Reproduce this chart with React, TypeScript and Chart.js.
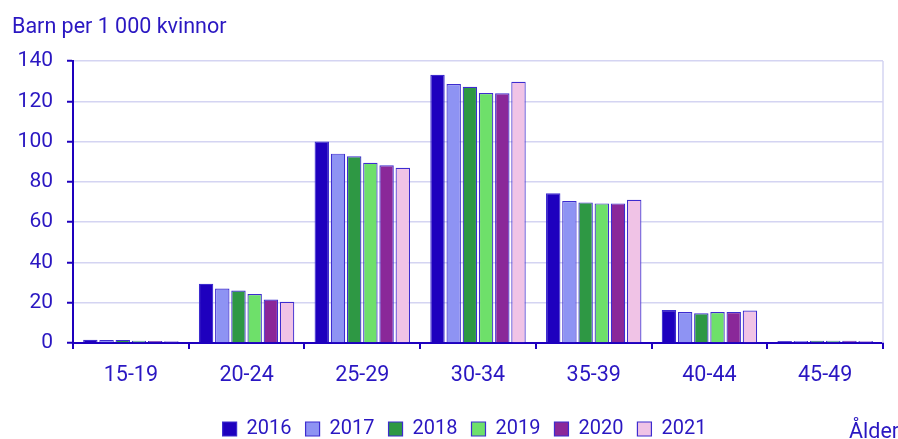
import React, { useEffect, useRef } from "react";
import { Chart, registerables } from "chart.js";

Chart.register(...registerables);

const ageGroups = ["15-19", "20-24", "25-29", "30-34", "35-39", "40-44", "45-49"];
const years = ["2016", "2017", "2018", "2019", "2020", "2021"];
const v2016 = [1.6, 29.4, 100.0, 133.2, 74.4, 16.4, 1.0];
const v2017 = [1.5, 27.0, 94.0, 128.6, 70.5, 15.4, 1.0];
const v2018 = [1.5, 26.1, 92.7, 127.2, 69.8, 14.8, 1.1];
const v2019 = [1.1, 24.3, 89.5, 124.1, 69.3, 15.4, 1.1];
const v2020 = [1.0, 21.6, 88.2, 124.0, 69.3, 15.4, 1.1];
const v2021 = [0.9, 20.5, 87.0, 129.7, 71.1, 16.1, 1.0];
const yTicks = [0, 20, 40, 60, 80, 100, 120, 140];
const yTitle = "Barn per 1 000 kvinnor";
const xTitle = "Ålder";

const seriesValues = [v2016, v2017, v2018, v2019, v2020, v2021];
const colors = ["#1e00be", "#8e93f3", "#2e9844", "#6ee06a", "#8a2899", "#f0c3e6"];
const MAIN = "#1e00be";
const TEXT = "#2a17c2";
const GRID = "#d4d4f2";
const FONT = "Roboto";

const extrasPlugin = {
  id: "extras",
  afterLayout(chart: any) {
    const lg = chart.legend;
    if (lg) {
      lg.left += 23;
      lg.right += 23;
      lg.top += 10;
      lg.bottom += 10;
    }
  },
  beforeDatasetsDraw(chart: any) {
    const { ctx, chartArea } = chart;
    ctx.save();
    ctx.strokeStyle = GRID;
    ctx.lineWidth = 1.5;
    ctx.beginPath();
    ctx.moveTo(chartArea.right, chartArea.top);
    ctx.lineTo(chartArea.right, chartArea.bottom);
    ctx.stroke();
    ctx.restore();
  },
  afterDraw(chart: any) {
    const { ctx } = chart;
    ctx.save();
    ctx.fillStyle = TEXT;
    ctx.textBaseline = "alphabetic";
    ctx.textAlign = "left";
    ctx.font = `21.5px ${FONT}`;
    ctx.fillText(yTitle, 12, 32.5);
    ctx.font = `21.5px ${FONT}`;
    ctx.fillText(xTitle, 849, 438);
    ctx.restore();
  },
};

export default function App() {
  const ref = useRef<HTMLCanvasElement>(null);
  useEffect(() => {
    document.body.style.margin = "0";
    const chart = new Chart(ref.current as HTMLCanvasElement, {
      type: "bar",
      data: {
        labels: ageGroups,
        datasets: years.map((y, i) => ({
          label: y,
          data: seriesValues[i],
          backgroundColor: colors[i],
          borderColor: "#3d2ccf",
          borderWidth: 1.2,
          categoryPercentage: 0.84,
          barPercentage: 0.89,
        })),
      },
      options: {
        animation: false,
        responsive: false,
        layout: { padding: { top: 61, left: 0, right: 15, bottom: 0 } },
        plugins: {
          title: { display: false },
          tooltip: { enabled: false },
          legend: {
            position: "bottom",
            labels: {
              boxWidth: 14,
              boxHeight: 14,
              padding: 14,
              color: TEXT,
              font: { family: FONT, size: 20 },
            },
          },
        },
        scales: {
          x: {
            grid: {
              offset: true,
              drawOnChartArea: false,
              drawTicks: true,
              tickLength: 6,
              color: MAIN,
              lineWidth: 2,
            },
            border: { display: true, color: MAIN, width: 2 },
            ticks: { color: TEXT, font: { family: FONT, size: 21.5 }, padding: 14 },
            afterFit: (s: any) => {
              s.height = 52;
            },
          },
          y: {
            min: 0,
            max: 140,
            afterBuildTicks: (s: any) => {
              s.ticks = yTicks.map((v) => ({ value: v }));
            },
            grid: {
              color: GRID,
              lineWidth: 1.5,
              tickColor: MAIN,
              tickLength: 6,
              tickWidth: 2,
            },
            border: { display: true, color: MAIN, width: 2 },
            ticks: { color: TEXT, font: { family: FONT, size: 21 }, padding: 14 },
            afterFit: (s: any) => {
              s.width = 73;
            },
          },
        },
      },
      plugins: [extrasPlugin],
    });
    return () => chart.destroy();
  }, []);
  return (
    <div style={{ position: "absolute", left: 0, top: 0, width: 898, height: 439 }}>
      <canvas ref={ref} width={898} height={439} />
    </div>
  );
}
